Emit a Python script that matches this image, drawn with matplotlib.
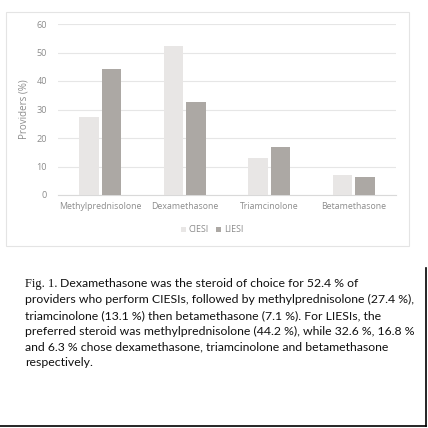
import matplotlib
matplotlib.use("Agg")
import matplotlib.pyplot as plt
from matplotlib.patches import Rectangle
from matplotlib.lines import Line2D
import numpy as np

categories = ["Methylprednisolone", "Dexamethasone", "Triamcinolone", "Betamethasone"]
ciesi = [27.4, 52.4, 13.1, 7.1]
liesi = [44.2, 32.6, 16.8, 6.3]
series_names = ["CIESI", "LIESI"]
yticks = [0, 10, 20, 30, 40, 50, 60]

W = H = 428
fig = plt.figure(figsize=(W / 100, H / 100), dpi=100)
fig.patch.set_facecolor("white")

def fx(px):
    return px / W

def fy(py):
    return 1 - py / H

# chart box
fig.add_artist(Rectangle((fx(6), fy(246)), fx(409) - fx(6), fy(12) - fy(246),
                         transform=fig.transFigure, fill=False,
                         edgecolor="#e4e4e4", linewidth=0.8))
# outer black frame lines
fig.add_artist(Line2D([fx(426), fx(426)], [fy(268), fy(426)], transform=fig.transFigure,
                      color="black", linewidth=1.2))
fig.add_artist(Line2D([0, fx(426)], [fy(426), fy(426)], transform=fig.transFigure,
                      color="black", linewidth=1.2))

left, right, top, bottom = 58, 396, 24, 195
ax = fig.add_axes([fx(left), fy(bottom), fx(right) - fx(left), fy(top) - fy(bottom)])
x = np.arange(len(categories))
bw = 0.23
off = 0.135
c1 = "#e8e6e5"
c2 = "#aca8a4"
ax.bar(x - off, ciesi, bw, color=c1, label=series_names[0], zorder=3)
ax.bar(x + off, liesi, bw, color=c2, label=series_names[1], zorder=3)
ax.set_xlim(-0.5, len(categories) - 0.5)
ax.set_ylim(0, 60)
ax.set_yticks(yticks)
ax.set_xticks(x)
ax.set_xticklabels(categories)
tc = "#8c8c8c"
ax.tick_params(axis="x", length=0, colors=tc, labelsize=6.3, pad=5)
ax.tick_params(axis="y", length=0, colors=tc, labelsize=6.6, pad=8)
for s in ["top", "right", "left"]:
    ax.spines[s].set_visible(False)
ax.spines["bottom"].set_color("#d9d9d9")
ax.spines["bottom"].set_linewidth(0.8)
ax.yaxis.grid(True, color="#e6e6e6", linewidth=0.8, zorder=0)
ax.set_axisbelow(True)
ax.set_ylabel("Providers (%)", color=tc, fontsize=7.0, labelpad=5)
for lab in ax.get_xticklabels() + ax.get_yticklabels():
    lab.set_fontfamily("Open Sans")
ax.yaxis.label.set_fontfamily("Open Sans")

leg = fig.legend(loc="center", bbox_to_anchor=(fx(212), fy(230)), ncol=2, frameon=False,
                 handlelength=0.6, handleheight=0.6, handletextpad=0.3,
                 columnspacing=0.8, prop={"family": "Open Sans", "size": 6.4})
for t in leg.get_texts():
    t.set_color(tc)

# caption
lines = [
    "Dexamethasone was the steroid of choice for 52.4 % of",
    "providers who perform CIESIs, followed by methylprednisolone (27.4 %),",
    "triamcinolone (13.1 %) then betamethasone (7.1 %). For LIESIs, the",
    "preferred steroid was methylprednisolone (44.2 %), while 32.6 %, 16.8 %",
    "and 6.3 % chose dexamethasone, triamcinolone and betamethasone",
    "respectively.",
]
cap_fs = 8.8
y0 = 287
dy = 15.9
t0 = fig.text(fx(25), fy(y0), "Fig. 1.", fontsize=9.0, family="Liberation Serif",
              color="#111111", va="baseline", ha="left")
fig.canvas.draw()
bb = t0.get_window_extent()
first_x = bb.x1 / W + 3 / W
fig.text(first_x, fy(y0), lines[0], fontsize=cap_fs, family="Lato", color="#111111",
         va="baseline", ha="left")
for i, ln in enumerate(lines[1:], start=1):
    fig.text(fx(25), fy(y0 + i * dy), ln, fontsize=cap_fs, family="Lato", color="#111111",
             va="baseline", ha="left")

fig.savefig("out.png", dpi=100)
